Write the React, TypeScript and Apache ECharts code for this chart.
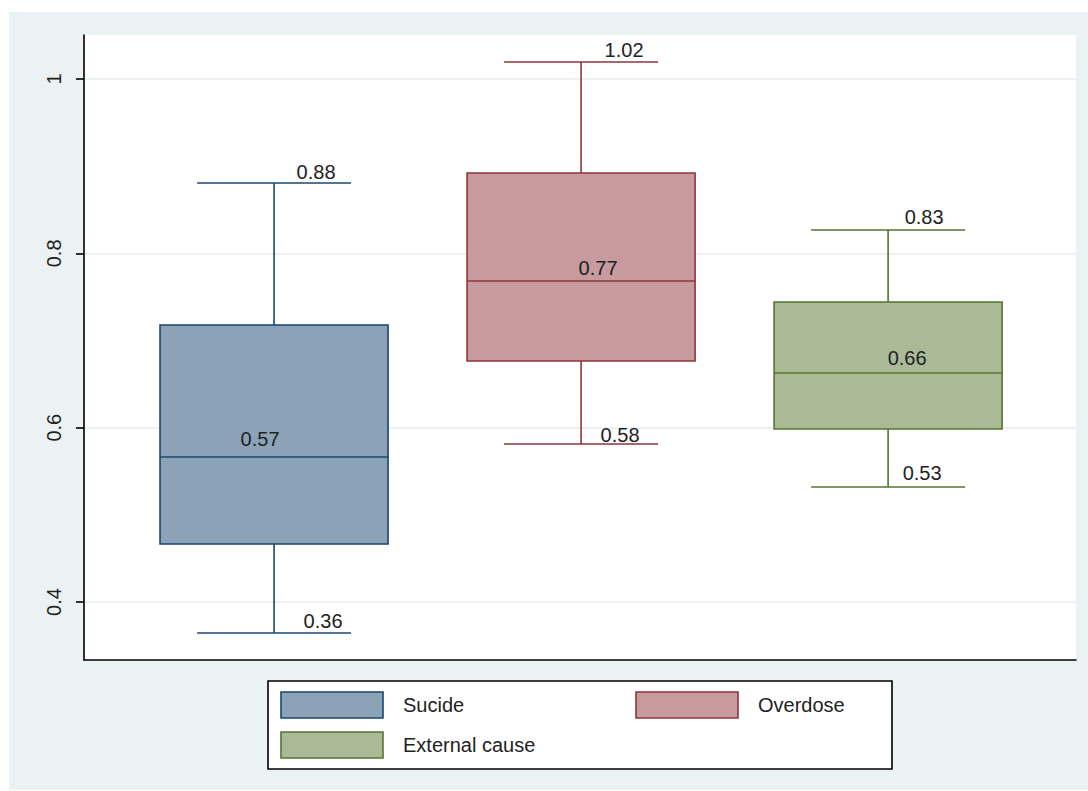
import React, { useEffect, useRef } from "react";
import * as echarts from "echarts";

// ---- data ----
const categories = ["Sucide", "Overdose", "External cause"];
const positions = [1, 2, 3];
const lowerWhisker = [0.3645, 0.5813, 0.532];
const q1 = [0.4666, 0.6765, 0.5985];
const median = [0.5664, 0.7683, 0.6627];
const q3 = [0.7178, 0.8922, 0.7442];
const upperWhisker = [0.8807, 1.0195, 0.8268];
const yTicks = [0.4, 0.6, 0.8, 1];

// ---- style / layout ----
const lineColors = ["#1A476F", "#90353B", "#55752F"];
const fillColors = ["#8CA3B7", "#C79A9D", "#AABA97"];
const hiLabelDx = [42, 43, 36];
const loLabelDx = [49, 39, 34];
const medLabelDx = [-14, 17, 19];
const hiLabelDy = [0, -1, -1.5];
const loLabelDy = [-1, 2, -2.5];
const medLabelDy = [-5, 0, -2];
const FONT = "Liberation Sans, Arial, sans-serif";
const BG = "#EAF2F3";
const TEXT = "#222222";

export default function App() {
  const ref = useRef<HTMLDivElement>(null);
  useEffect(() => {
    if (!ref.current) return;
    const chart = echarts.init(ref.current, null, { renderer: "svg" });

    const data = positions.map((p, i) => [
      p,
      lowerWhisker[i],
      q1[i],
      median[i],
      q3[i],
      upperWhisker[i],
      i,
    ]);

    const renderItem = (params: any, api: any) => {
      const x = api.value(0);
      const i = api.value(6);
      const lo = api.coord([x, api.value(1)]);
      const b1 = api.coord([x, api.value(2)]);
      const md = api.coord([x, api.value(3)]);
      const b3 = api.coord([x, api.value(4)]);
      const hi = api.coord([x, api.value(5)]);
      const boxW = api.size([0.7427, 0])[0];
      const capW = api.size([0.5016, 0])[0];
      const cx = lo[0];
      const stroke = lineColors[i];
      const lw = 1.6;
      const txt = (t: string, tx: number, ty: number) => ({
        type: "text",
        style: {
          text: t,
          x: tx,
          y: ty,
          fill: TEXT,
          font: `20px ${FONT}`,
          align: "center",
          verticalAlign: "bottom",
        },
      });
      return {
        type: "group",
        children: [
          { type: "line", shape: { x1: cx, y1: hi[1], x2: cx, y2: b3[1] }, style: { stroke, lineWidth: lw } },
          { type: "line", shape: { x1: cx, y1: b1[1], x2: cx, y2: lo[1] }, style: { stroke, lineWidth: lw } },
          { type: "line", shape: { x1: cx - capW / 2, y1: hi[1], x2: cx + capW / 2, y2: hi[1] }, style: { stroke, lineWidth: lw } },
          { type: "line", shape: { x1: cx - capW / 2, y1: lo[1], x2: cx + capW / 2, y2: lo[1] }, style: { stroke, lineWidth: lw } },
          {
            type: "rect",
            shape: { x: cx - boxW / 2, y: b3[1], width: boxW, height: b1[1] - b3[1] },
            style: { fill: fillColors[i], stroke, lineWidth: lw },
          },
          { type: "line", shape: { x1: cx - boxW / 2, y1: md[1], x2: cx + boxW / 2, y2: md[1] }, style: { stroke, lineWidth: lw } },
          txt(upperWhisker[i].toFixed(2), cx + hiLabelDx[i], hi[1] - 1 + hiLabelDy[i]),
          txt(lowerWhisker[i].toFixed(2), cx + loLabelDx[i], lo[1] - 1 + loLabelDy[i]),
          txt(median[i].toFixed(2), cx + medLabelDx[i], md[1] - 3 + medLabelDy[i]),
        ],
      };
    };

    const legendChildren: any[] = [
      {
        type: "rect",
        shape: { x: 268, y: 681, width: 624, height: 88 },
        style: { fill: "#fff", stroke: "#000", lineWidth: 1.6 },
      },
    ];
    categories.forEach((c, i) => {
      const col = i % 2;
      const row = Math.floor(i / 2);
      const ix = 281 + col * 355;
      const iy = 692 + row * 40;
      legendChildren.push({
        type: "rect",
        shape: { x: ix, y: iy, width: 102, height: 26 },
        style: { fill: fillColors[i], stroke: lineColors[i], lineWidth: 1.6 },
      });
      legendChildren.push({
        type: "text",
        style: {
          text: c,
          x: ix + 122,
          y: iy + 13,
          fill: TEXT,
          font: `20px ${FONT}`,
          align: "left",
          verticalAlign: "middle",
        },
      });
    });

    chart.setOption({
      animation: false,
      backgroundColor: "#ffffff",
      graphic: [
        {
          type: "rect",
          z: -100,
          shape: { x: 9, y: 12, width: 1079, height: 778 },
          style: { fill: BG },
        },
        { type: "group", children: legendChildren },
      ],
      grid: {
        left: 84,
        top: 35,
        width: 992,
        height: 625,
        show: true,
        backgroundColor: "#ffffff",
        borderWidth: 0,
      },
      xAxis: {
        type: "value",
        min: 0.381,
        max: 3.612,
        axisLine: { show: true, onZero: false, lineStyle: { color: "#000", width: 1.6 } },
        axisTick: { show: false },
        axisLabel: { show: false },
        splitLine: { show: false },
      },
      yAxis: {
        type: "value",
        min: 0.3335,
        max: 1.0505,
        axisLine: { show: true, lineStyle: { color: "#000", width: 1.6 } },
        axisTick: {
          show: true,
          length: 8,
          customValues: yTicks,
          lineStyle: { color: "#000", width: 1.6 },
        },
        axisLabel: {
          show: true,
          rotate: 90,
          margin: 20,
          customValues: yTicks,
          formatter: (v: number) => String(v),
          color: TEXT,
          fontSize: 20,
          fontFamily: FONT,
        },
        splitLine: { show: true, lineStyle: { color: "#E6EEF0", width: 1.6 } },
      },
      series: [
        {
          type: "custom",
          name: "box",
          renderItem,
          data,
          z: 5,
          clip: false,
        },
      ],
    });

    return () => chart.dispose();
  }, []);

  return (
    <div
      ref={ref}
      style={{ position: "fixed", left: 0, top: 0, width: 1088, height: 791 }}
    />
  );
}
